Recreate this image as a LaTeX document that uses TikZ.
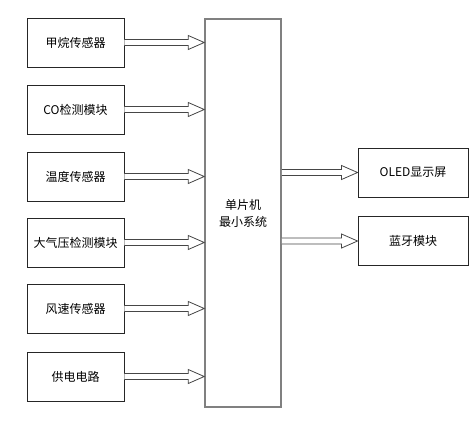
\documentclass[tikz,border=0pt]{standalone}
\usepackage{fontspec}
\setmainfont{Noto Sans CJK SC}
\usetikzlibrary{calc}
\definecolor{mcugray}{RGB}{128,128,128}
\definecolor{arrgray}{RGB}{70,70,70}
\tikzset{
  box/.style={draw=black!85, line width=0.9pt, minimum width=97pt, minimum height=49pt, inner sep=0pt, font=\fontsize{12}{15}\selectfont},
  rbox/.style={box, minimum width=110pt},
  mcu/.style={draw=mcugray, line width=1.5pt, minimum width=76pt, minimum height=388pt, inner sep=0pt, align=center, font=\fontsize{12}{17}\selectfont},
  fatarr/.style={draw=arrgray, line width=0.8pt, fill=white, line join=miter}
}
\newcommand\fatarrowL[2]{\draw[fatarr] let \p1=(#1.east), \p2=(#2.west) in (\x1,\y1+3) -- (\x2-16,\y1+3) -- (\x2-16,\y1+7) -- (\x2,\y1) -- (\x2-16,\y1-7) -- (\x2-16,\y1-3) -- (\x1,\y1-3);}
\newcommand\fatarrowR[2]{\draw[fatarr] let \p1=(#1.east), \p2=(#2.west) in (\x1,\y2+3) -- (\x2-16,\y2+3) -- (\x2-16,\y2+7) -- (\x2,\y2) -- (\x2-16,\y2-7) -- (\x2-16,\y2-3) -- (\x1,\y2-3);}
\begin{document}
\begin{tikzpicture}[x=1pt,y=-1pt]
\useasboundingbox (0,0) rectangle (476,424);
\node[mcu] (m) at (243,213) {单片机\\最小系统};
\node[box] (a1) at (75.5,42.5) {甲烷传感器};
\node[box] (a2) at (75.5,109.5) {CO检测模块};
\node[box] (a3) at (75.5,176.5) {温度传感器};
\node[box] (a4) at (75.5,242.5) {大气压检测模块};
\node[box] (a5) at (75.5,308.5) {风速传感器};
\node[box] (a6) at (75.5,376.5) {供电电路};
\node[rbox] (o) at (413,172.5) {OLED显示屏};
\node[rbox] (b) at (413,241) {蓝牙模块};
\foreach \bx in {a1,a2,a3,a4,a5,a6}{\fatarrowL{\bx}{m}}
\fatarrowR{m}{o}
\fatarrowR{m}{b}
\end{tikzpicture}
\end{document}
